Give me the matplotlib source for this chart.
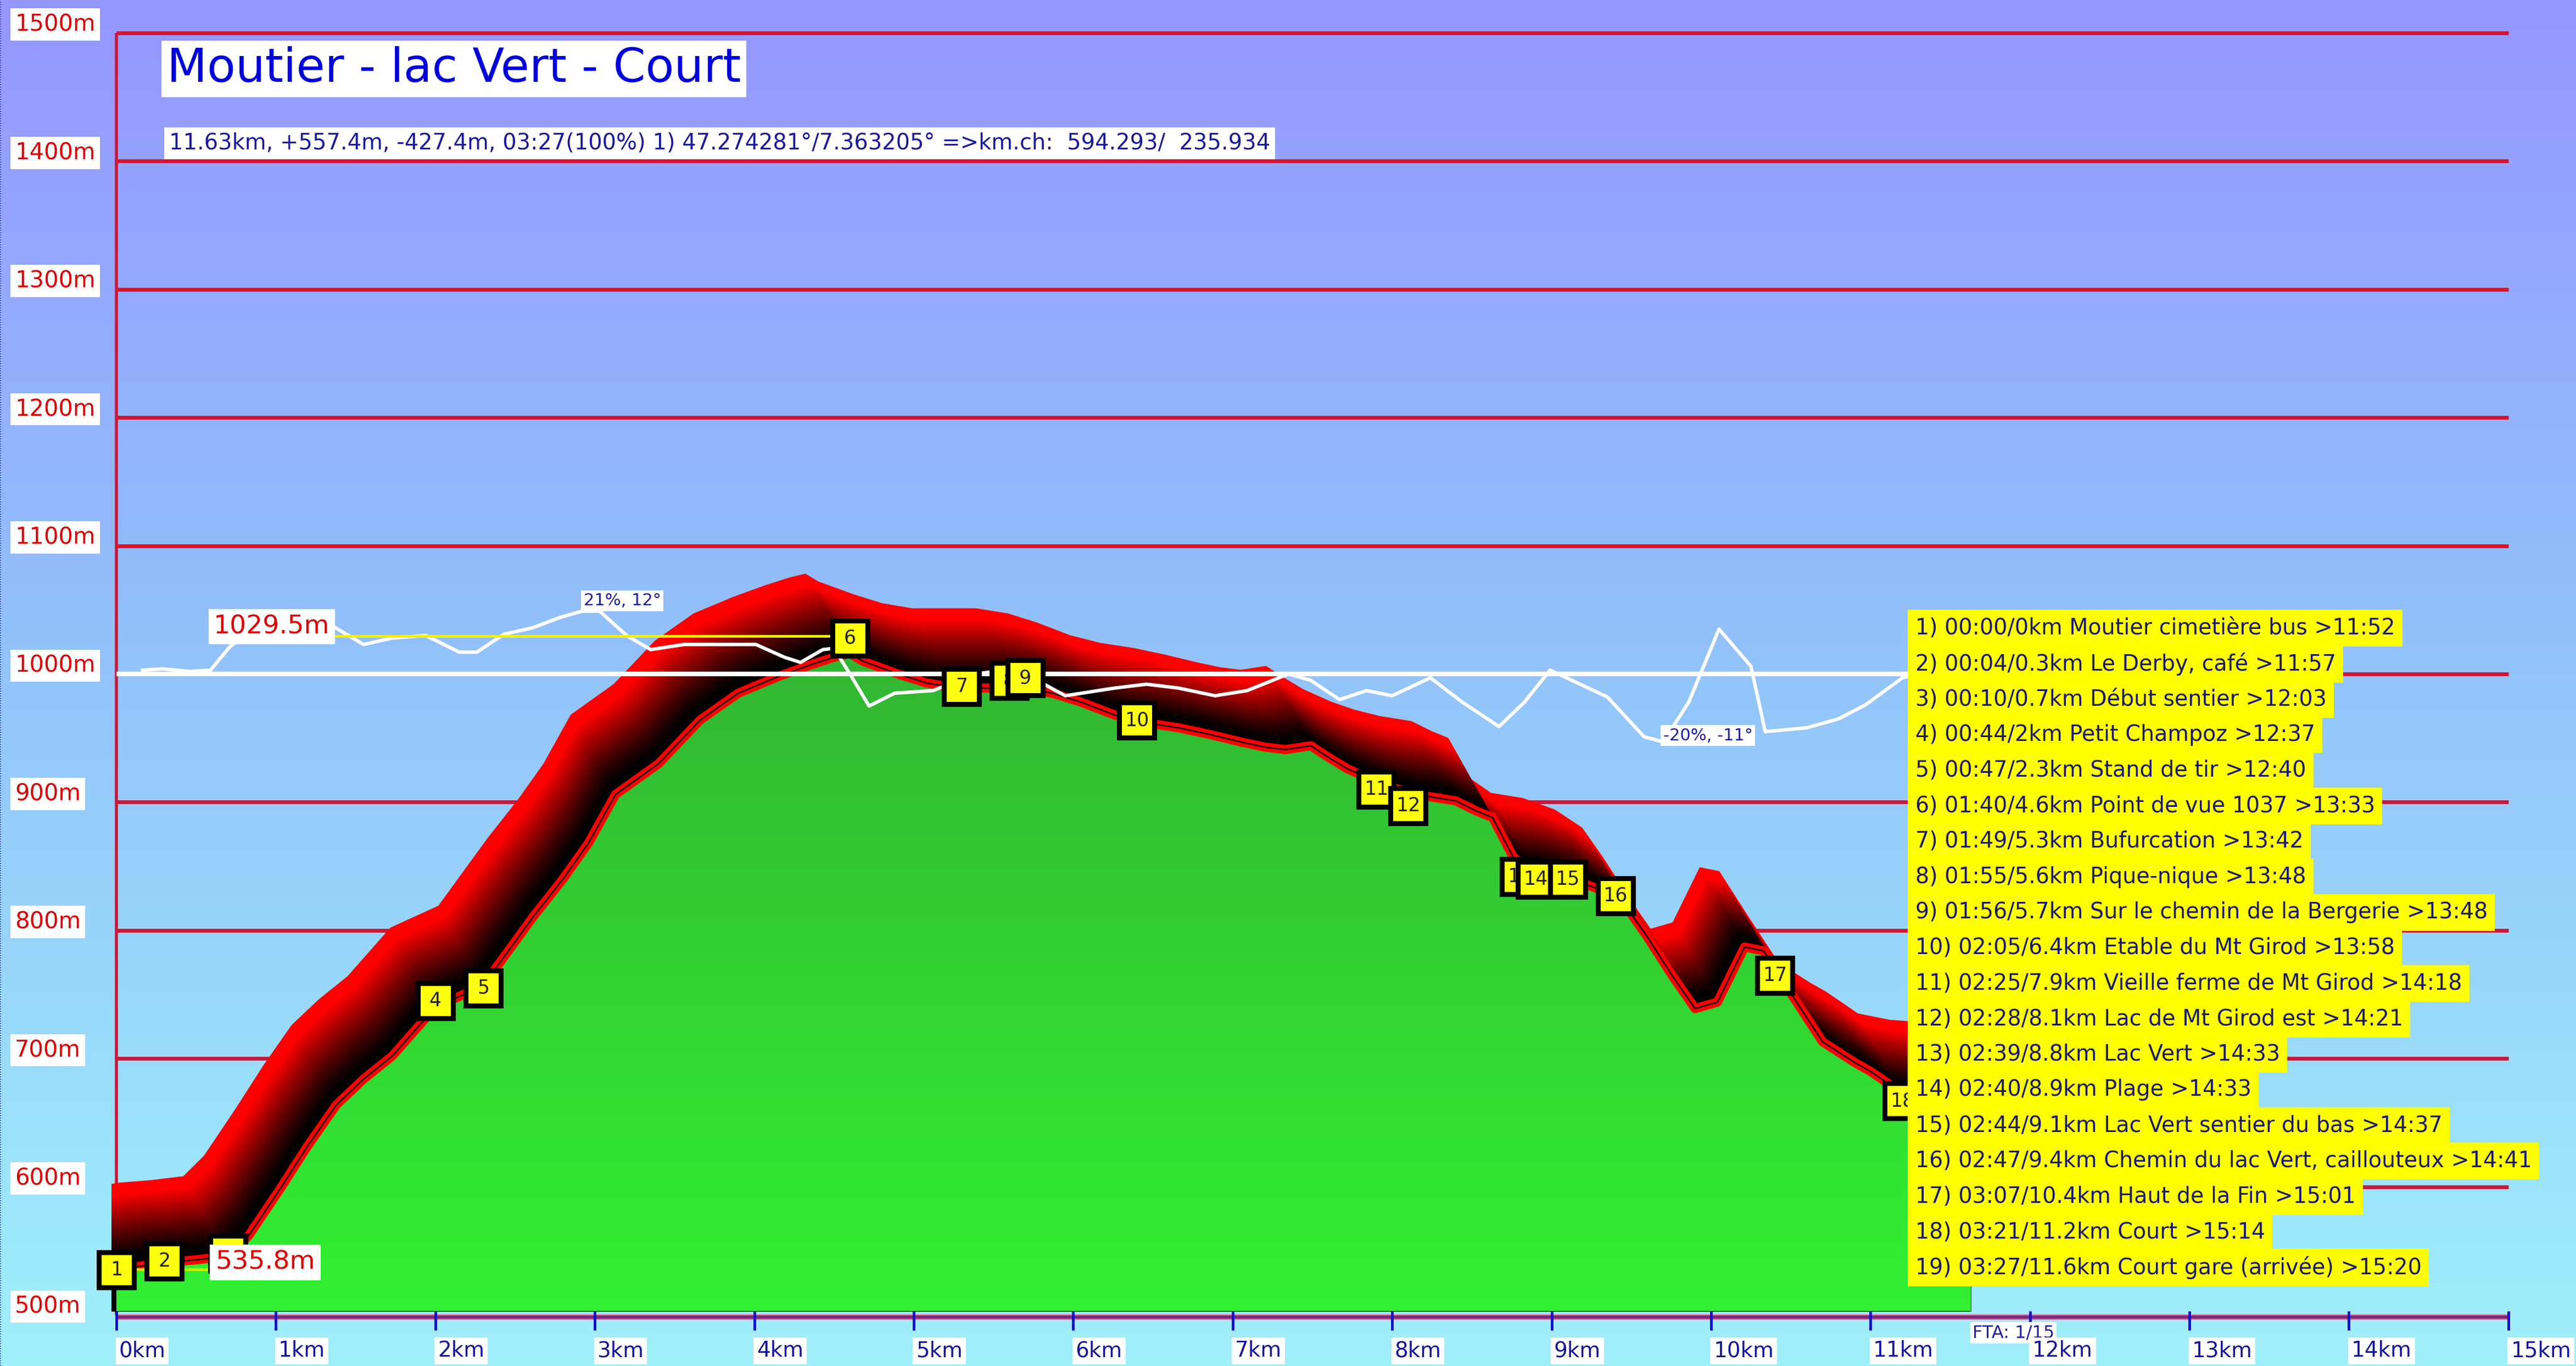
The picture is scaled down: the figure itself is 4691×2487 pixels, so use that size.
import numpy as np
import matplotlib
matplotlib.use("Agg")
import matplotlib.pyplot as plt
from matplotlib.patches import Polygon, Rectangle

# --- data ---
dist_km = [0.0, 0.15, 0.3, 0.5, 0.7, 0.83, 1.03, 1.2, 1.38, 1.55, 1.73, 2.0, 2.3, 2.61, 2.8,
           2.96, 3.13, 3.4, 3.66, 3.9, 4.15, 4.35, 4.5, 4.6, 4.68, 4.9, 5.08, 5.27, 5.5, 5.67,
           5.87, 6.05, 6.26, 6.45, 6.66, 6.85, 7.05, 7.2, 7.33, 7.49, 7.6, 7.72, 7.9, 8.04,
           8.2, 8.4, 8.53, 8.63, 8.76, 8.9, 9.1, 9.3, 9.47, 9.6, 9.76, 9.9, 10.04, 10.21,
           10.33, 10.5, 10.7, 10.9, 11.0, 11.2, 11.4, 11.63]
elev_m = [536, 538, 541, 543, 546, 562, 599, 632, 664, 684, 702, 740, 757, 810, 840,
          868, 906, 930, 964, 985, 998, 1007, 1013, 1016, 1010, 1000, 993, 989, 989, 989,
          985, 978, 968, 962, 958, 953, 947, 943, 941, 944, 935, 926, 916, 910,
          905, 901, 893, 888, 857, 845, 841, 832, 818, 795, 764, 739, 744, 787,
          784, 751, 713, 697, 690, 673, 668, 666]

# slope curve (drawn around the 1000 m line)
slope_km = [0.165, 0.29, 0.46, 0.59, 0.71, 0.85, 1.0, 1.15, 1.32, 1.55, 1.73, 1.94, 2.15, 2.26,
            2.43, 2.61, 2.78, 2.92, 3.03, 3.2, 3.35, 3.56, 3.77, 4.01, 4.19, 4.29, 4.43, 4.5,
            4.6, 4.72, 4.88, 5.12, 5.39, 5.51, 5.7, 5.95, 6.26, 6.46, 6.66, 6.89, 7.09, 7.35,
            7.49, 7.67, 7.84, 8.0, 8.24, 8.44, 8.67, 8.83, 8.99, 9.23, 9.35, 9.58, 9.7, 9.86,
            10.05, 10.25, 10.34, 10.6, 10.8, 10.97, 11.2, 11.4, 11.6]
slope_val = [1003, 1004, 1002, 1003, 1021, 1035, 1040, 1042, 1040, 1023, 1028, 1030, 1017, 1017,
             1031, 1036, 1044, 1049, 1049, 1030, 1019, 1023, 1023, 1023, 1013, 1009, 1019, 1020,
             1000, 975, 985, 987, 1000, 1002, 1000, 983, 989, 992, 989, 983, 987, 1000,
             995, 980, 987, 983, 997, 978, 959, 978, 1003, 989, 982, 951, 947, 978,
             1035, 1006, 955, 958, 965, 976, 997, 1003, 1005]

wp_km = [0, 0.3, 0.7, 2, 2.3, 4.6, 5.3, 5.6, 5.7, 6.4, 7.9, 8.1, 8.8, 8.9, 9.1, 9.4, 10.4, 11.2, 11.6]
wp_elev = [535, 542, 548, 745, 755, 1028, 990, 995, 997, 964, 910, 897, 842, 840, 840, 827, 765, 667, 667]

legend_lines = [
    "1) 00:00/0km Moutier cimetière bus >11:52",
    "2) 00:04/0.3km Le Derby, café >11:57",
    "3) 00:10/0.7km Début sentier >12:03",
    "4) 00:44/2km Petit Champoz >12:37",
    "5) 00:47/2.3km Stand de tir >12:40",
    "6) 01:40/4.6km Point de vue 1037 >13:33",
    "7) 01:49/5.3km Bufurcation >13:42",
    "8) 01:55/5.6km Pique-nique >13:48",
    "9) 01:56/5.7km Sur le chemin de la Bergerie >13:48",
    "10) 02:05/6.4km Etable du Mt Girod >13:58",
    "11) 02:25/7.9km Vieille ferme de Mt Girod >14:18",
    "12) 02:28/8.1km Lac de Mt Girod est >14:21",
    "13) 02:39/8.8km Lac Vert >14:33",
    "14) 02:40/8.9km Plage >14:33",
    "15) 02:44/9.1km Lac Vert sentier du bas >14:37",
    "16) 02:47/9.4km Chemin du lac Vert, caillouteux >14:41",
    "17) 03:07/10.4km Haut de la Fin >15:01",
    "18) 03:21/11.2km Court >15:14",
    "19) 03:27/11.6km Court gare (arrivée) >15:20",
]

title = "Moutier - lac Vert - Court"
subtitle = ("11.63km, +557.4m, -427.4m, 03:27(100%) 1) 47.274281°/7.363205° "
            "=>km.ch:  594.293/  235.934")
y_ticks = list(range(500, 1501, 100))
x_ticks = list(range(0, 16))

x = np.array(dist_km, float)
y = np.array(elev_m, float)

W, H = 4691, 2487
fig = plt.figure(figsize=(W / 100, H / 100), dpi=100)
ax = fig.add_axes([0, 0, 1, 1])
X0, X1 = -0.730, 15.424
Y0, Y1 = 460.2, 1525.7
ax.set_xlim(X0, X1)
ax.set_ylim(Y0, Y1)
ax.axis("off")

# background gradient
f = np.linspace(0, 1, 600)
bg = np.stack([np.interp(f, [0, 0.45, 1], [150, 146, 160]),
               np.interp(f, [0, 0.45, 1], [150, 192, 240]),
               np.interp(f, [0, 0.45, 1], [255, 250, 250])], axis=1)[:, None, :] / 255
ax.imshow(bg, extent=(X0, X1, Y0, Y1), aspect="auto", origin="upper", zorder=0)
ax.axvline(X0 + 0.004, color="#333399", lw=1.2, ls=":", zorder=1)

# grid
for v in y_ticks[1:]:
    ax.hlines(v, 0, 15, color="#d01535", lw=5, zorder=1)
ax.vlines(0, 500, 1500, color="#d01535", lw=4, zorder=1)

# extruded red band
clip_rect = Rectangle((-0.03, 400), 20, 1200, transform=ax.transData)
dx, dy = 0.28, 62
for t in np.linspace(1, 0, 80):
    xs, ys = x - dx * t, y + dy * t
    r = np.clip((t - 0.12) / 0.75, 0, 1) ** 1.2
    verts = [(xs[0], 503)] + list(zip(xs, ys)) + [(xs[-1], 503)]
    p = Polygon(verts, closed=True, fc=(r, 0, 0), ec=(r, 0, 0), lw=0.8, zorder=2)
    ax.add_patch(p)
    p.set_clip_path(clip_rect)

# green area with gradient
g = np.linspace(0, 1, 400)
green = np.stack([np.full_like(g, 50), np.interp(g, [0, 1], [180, 240]),
                  np.full_like(g, 50)], axis=1)[:, None, :] / 255
im = ax.imshow(green, extent=(0, x[-1], 503, 1030), aspect="auto", origin="upper", zorder=3)
gpoly = Polygon([(0, 503)] + list(zip(x, y)) + [(x[-1], 503)], closed=True,
                transform=ax.transData)
im.set_clip_path(gpoly)

ax.plot(x, y, color="red", lw=12, solid_joinstyle="round", zorder=4)
ax.plot(x, y, color="black", lw=1.8, zorder=4)

# bottom axis and ticks
ax.hlines(498.5, 0, 15, color="#e06090", lw=7, zorder=5)
ax.hlines(498.5, 0, 15, color="#7a2a7a", lw=4, zorder=5)
for k in x_ticks:
    ax.vlines(k, 488, 503, color="#1010cc", lw=3.5, zorder=5)
    ax.text(k + 0.015, 472, f"{k}km", color="#1515a0", fontsize=28, ha="left", va="center",
            bbox=dict(boxstyle="square,pad=0.15", fc="white", ec="none"), zorder=9)

for v in y_ticks:
    ax.text(-0.637, v + 6.5, f"{v}m", color="#dd0000", fontsize=30, ha="left", va="center",
            bbox=dict(boxstyle="square,pad=0.2", fc="white", ec="none"), zorder=9)

# 1000 m line, slope curve, min/max lines
ax.hlines(1000, 0, x[-1], color="white", lw=6, zorder=6)
ax.plot(slope_km, slope_val, color="white", lw=4.5, zorder=6)
ax.hlines(1029.5, 1.3, 4.6, color="#f0f000", lw=3.5, zorder=6)
ax.hlines(535.8, 0, 0.62, color="#c8f000", lw=3.5, zorder=6)

# waypoints
for i, (wk, we) in enumerate(zip(wp_km, wp_elev), start=1):
    ax.plot(wk, we, marker="s", ms=46, mfc="#ffff10", mec="black", mew=6.5, zorder=7 + i * 0.01)
    ax.text(wk, we, str(i), fontsize=25, color="#222222", ha="center", va="center",
            zorder=7 + i * 0.01 + 0.005)

# labels
ax.text(0.61, 1037, "1029.5m", color="#e00000", fontsize=34, ha="left", va="center",
        bbox=dict(boxstyle="square,pad=0.2", fc="white", ec="none"), zorder=8)
ax.text(0.62, 541, "535.8m", color="#e00000", fontsize=34, ha="left", va="center",
        bbox=dict(boxstyle="square,pad=0.22", fc="white", ec="none"), zorder=8)
ax.text(2.93, 1057, "21%, 12°", color="#2020a0", fontsize=22, ha="left", va="center",
        bbox=dict(boxstyle="square,pad=0.15", fc="white", ec="none"), zorder=8)
ax.text(9.7, 952, "-20%, -11°", color="#2020a0", fontsize=22, ha="left", va="center",
        bbox=dict(boxstyle="square,pad=0.15", fc="white", ec="none"), zorder=8)
ax.text(11.64, 486, "FTA: 1/15", color="#2020a0", fontsize=23, ha="left", va="center",
        bbox=dict(boxstyle="square,pad=0.12", fc="white", ec="none"), zorder=8)

# title and summary
ax.text(2.116, 1472, title, color="#0000dd", fontsize=61, ha="center", va="center",
        bbox=dict(boxstyle="square,pad=0.12", fc="white", ec="none"), zorder=9)
ax.text(0.33, 1414, subtitle, color="#1a1aa0", fontsize=28.8, ha="left", va="center",
        bbox=dict(boxstyle="square,pad=0.22", fc="white", ec="none"), zorder=9)

# waypoint list
for i, line in enumerate(legend_lines):
    ax.text(11.28, 1035.6 - 27.7 * i, line, color="#1a1a70", fontsize=28.5, ha="left",
            va="center", bbox=dict(boxstyle="square,pad=0.34", fc="#ffff00", ec="none"),
            zorder=10)

fig.savefig("out.png", dpi=100)
